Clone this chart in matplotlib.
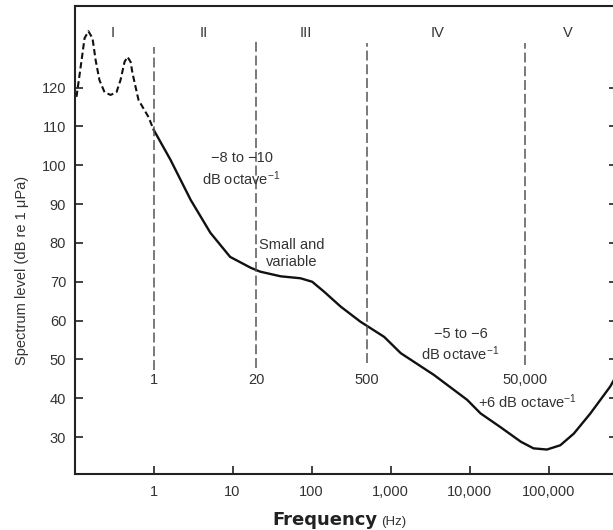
import matplotlib
matplotlib.use("Agg")
import matplotlib.pyplot as plt

plt.rcParams['font.family'] = ['Liberation Sans', 'DejaVu Sans']
plt.rcParams['mathtext.fontset'] = 'custom'
plt.rcParams['mathtext.rm'] = 'Liberation Sans'
plt.rcParams['mathtext.default'] = 'regular'

# ---- data ----
dashed_freq = [0.106, 0.123, 0.134, 0.150, 0.169, 0.185, 0.207, 0.240, 0.286,
               0.340, 0.382, 0.430, 0.469, 0.513, 0.542, 0.646, 0.865, 1.0]
dashed_level = [117.6, 127.1, 132.7, 134.5, 132.7, 127.1, 121.9, 118.8, 118.1,
                118.8, 121.9, 126.6, 127.9, 126.6, 123.7, 116.8, 112.4, 109.2]

solid_freq = [1.0, 1.64, 2.95, 5.25, 9.33, 17.0, 22.4, 40.7, 72.4, 102, 145, 234,
              417, 832, 1350, 3550, 9330, 13800, 24500, 44700, 64600, 95500,
              141000, 209000, 339000, 603000, 708000]
solid_level = [109.2, 101.4, 91.1, 82.6, 76.4, 73.6, 72.6, 71.4, 70.9, 70.0, 67.4,
               63.6, 59.7, 55.8, 51.6, 46.0, 39.6, 36.1, 32.6, 28.8, 27.1, 26.8,
               27.9, 30.9, 36.1, 43.0, 45.5]

boundary_freqs = [1, 20, 500, 50000]
boundary_labels = ['1', '20', '500', '50,000']
boundary_tops = [130.4, 132.0, 131.5, 131.5]
boundary_bottoms = [47.2, 47.8, 49.1, 48.5]

region_names = ['I', 'II', 'III', 'IV', 'V']
region_freqs = [0.30, 4.3, 84, 3900, 174000]

xtick_vals = [1, 10, 100, 1000, 10000, 100000]
xtick_labels = ['1', '10', '100', '1,000', '10,000', '100,000']
ytick_vals = [30, 40, 50, 60, 70, 80, 90, 100, 110, 120]

# ---- figure ----
W, H = 613, 530
fig = plt.figure(figsize=(W / 100, H / 100), dpi=100)
left_px, right_px, top_px, bottom_px = 74.5, 617, 6, 474
ax = fig.add_axes([left_px / W, (H - bottom_px) / H,
                   (right_px - left_px) / W, (bottom_px - top_px) / H])
ax.set_xscale('log')
ax.set_xlim(0.1, 7.36e5)
ax.set_ylim(20.5, 141.0)

txt = '#333333'
line_c = '#111111'

ax.plot(dashed_freq, dashed_level, color=line_c, lw=1.5,
        linestyle=(0, (3.0, 1.6)), solid_capstyle='butt')
ax.plot(solid_freq, solid_level, color=line_c, lw=1.7,
        solid_joinstyle='round', solid_capstyle='round')

for f, lab, top, bot in zip(boundary_freqs, boundary_labels, boundary_tops, boundary_bottoms):
    ax.plot([f, f], [bot, top], color='#555555', lw=1.1, linestyle=(0, (6.5, 2.5)))
    ax.text(f, 44.7, lab, ha='center', va='center', fontsize=10.5, color=txt)

for name, f in zip(region_names, region_freqs):
    ax.text(f, 134.0, name, ha='center', va='center', fontsize=10.5, color=txt)

ax.text(13, 98.9, '\u22128 to \u221210\ndB octave$^{-1}$', ha='center', va='center',
        fontsize=10.5, color=txt, linespacing=1.25)
ax.text(56, 77.3, 'Small and\nvariable', ha='center', va='center',
        fontsize=10.5, color=txt, linespacing=1.25)
ax.text(7700, 53.7, '\u22125 to \u22126\ndB octave$^{-1}$', ha='center', va='center',
        fontsize=10.5, color=txt, linespacing=1.25)
ax.text(54000, 39.0, '+6 dB octave$^{-1}$', ha='center', va='center',
        fontsize=10.5, color=txt)

ax.set_xticks(xtick_vals)
ax.set_xticklabels(xtick_labels)
ax.xaxis.set_minor_locator(matplotlib.ticker.NullLocator())
ax.set_yticks(ytick_vals)
ax.tick_params(axis='both', direction='in', length=6, width=1.2, colors='#222222',
               labelcolor=txt, labelsize=10.5)
ax.tick_params(axis='y', right=True, pad=6)
ax.tick_params(axis='x', pad=8)

for s in ax.spines.values():
    s.set_linewidth(1.5)
    s.set_color('#222222')

fig.text(377 / W, (H - 525) / H, 'Frequency', ha='right', va='baseline',
         fontsize=13, fontweight='bold', color='#222222', family='DejaVu Sans')
fig.text(381 / W, (H - 525) / H, '(Hz)', ha='left', va='baseline',
         fontsize=9.5, color=txt)
fig.text(22 / W, (H - 270) / H, 'Spectrum level (dB re 1 \u03bcPa)', rotation=90,
         ha='center', va='center', fontsize=10.5, color=txt)

fig.savefig('out.png', dpi=100)
